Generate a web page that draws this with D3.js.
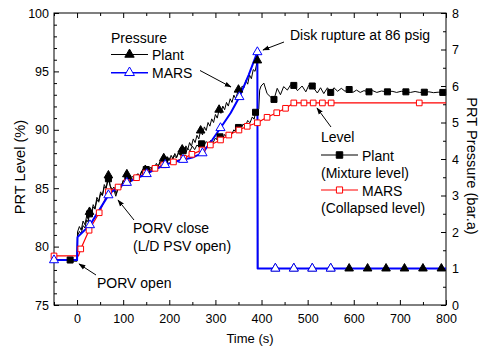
<!DOCTYPE html>
<html>
<head>
<meta charset="utf-8">
<script src="https://cdn.jsdelivr.net/npm/d3@7"></script>
<style>
  body { margin: 0; background: #fff; }
  svg text { font-family: "Liberation Sans", Arial, sans-serif; fill: #000; }
</style>
</head>
<body>
<div id="chart"></div>
<script>
// [time (s), value, marker?]
const plantPressure = [
  [-15, 1.2], [0, 1.2], [1, 2.0], [5, 2.15], [9, 2.05], [13, 2.3], [17, 2.2], [21, 2.45], [24, 2.35],
  [27, 2.55, 1], [31, 2.5], [35, 2.75], [39, 2.65], [43, 2.95], [47, 2.85], [51, 3.1], [55, 3.0],
  [59, 3.3], [63, 3.2], [68, 3.55, 1], [72, 3.25], [76, 3.1], [80, 3.15], [84, 2.98], [88, 3.15],
  [92, 3.3], [96, 3.22], [100, 3.42], [104, 3.35], [108, 3.58, 1], [112, 3.42], [116, 3.5], [120, 3.42],
  [124, 3.55], [128, 3.47], [132, 3.6], [136, 3.52], [140, 3.65], [144, 3.56], [148, 3.7, 1], [152, 3.62],
  [156, 3.76], [160, 3.68], [164, 3.82], [168, 3.74], [172, 3.88], [176, 3.8], [180, 3.94], [184, 3.86],
  [188, 4.02, 1], [192, 3.92], [196, 4.06], [200, 3.96], [204, 4.1], [208, 4.0], [212, 4.15], [216, 4.04],
  [220, 4.2], [224, 4.1], [228, 4.26, 1], [232, 4.18], [236, 4.36], [240, 4.26], [244, 4.45], [248, 4.35],
  [252, 4.55], [256, 4.45], [260, 4.65], [264, 4.55], [268, 4.78, 1], [272, 4.66], [276, 4.88], [280, 4.78],
  [284, 5.0], [288, 4.9], [292, 5.1], [296, 5.0], [300, 5.22], [304, 5.12], [308, 5.35, 1], [312, 5.25],
  [316, 5.45], [320, 5.35], [324, 5.55], [328, 5.45], [332, 5.65], [336, 5.55], [340, 5.75], [344, 5.65],
  [350, 5.9, 1], [354, 5.8], [358, 6.0], [362, 5.95], [366, 6.15], [370, 6.05], [374, 6.3], [378, 6.2],
  [382, 6.45], [386, 6.4], [391, 6.7, 1], [392, 1.0], [430, 1.0, 1], [470, 1.0, 1], [510, 1.0, 1],
  [550, 1.0, 1], [590, 1.0, 1], [630, 1.0, 1], [670, 1.0, 1], [710, 1.0, 1], [750, 1.0, 1], [790, 1.0, 1],
  [800, 1.0]
];

const marsPressure = [
  [-50, 1.23, 1], [0, 1.23], [1, 1.86], [28, 2.19, 1], [68, 3.01, 1], [75, 3.1], [90, 3.22],
  [108, 3.35, 1], [130, 3.48], [151, 3.59, 1], [170, 3.72], [191, 3.84, 1], [210, 3.92], [230, 3.98, 1],
  [252, 4.05], [272, 4.16, 1], [293, 4.52], [311, 4.85, 1], [333, 5.26], [352, 5.7, 1], [372, 6.3],
  [391, 6.93, 1], [391.5, 1.0], [430, 1.0, 1], [470, 1.0, 1], [510, 1.0, 1], [550, 1.0, 1], [800, 1.0]
];

const plantLevel = [
  [-15, 78.85, 1], [0, 78.85], [1, 80.9], [5, 81.3], [9, 81.1], [13, 81.8], [17, 81.6], [21, 82.3],
  [24, 82.1], [27, 82.8, 1], [31, 82.7], [35, 83.4], [39, 83.2], [43, 84.0], [47, 83.8], [51, 84.5],
  [55, 84.4], [59, 85.1], [63, 85.0], [68, 85.8, 1], [72, 85.2], [76, 84.9], [80, 85.1], [85, 84.5],
  [90, 85.3], [95, 85.2], [100, 85.6], [105, 85.5], [110, 85.8, 1], [115, 85.7], [120, 86.0], [125, 85.9],
  [130, 86.2], [135, 86.0], [140, 86.4], [145, 86.2], [150, 86.6, 1], [155, 86.5], [160, 86.8], [165, 86.6],
  [170, 87.0], [175, 86.8], [180, 87.2], [185, 87.0], [190, 87.4, 1], [195, 87.2], [200, 87.6], [205, 87.4],
  [210, 87.8], [215, 87.6], [220, 88.0], [225, 87.8], [230, 88.2, 1], [235, 88.0], [240, 88.4], [245, 88.2],
  [250, 88.6], [255, 88.3], [260, 88.7], [265, 88.5], [270, 88.8, 1], [275, 88.6], [280, 89.0], [285, 88.8],
  [290, 89.1], [295, 88.9], [300, 89.3], [305, 89.1], [310, 89.4, 1], [315, 89.2], [320, 89.6], [325, 89.4],
  [330, 89.8], [335, 89.6], [340, 90.0], [345, 89.8], [350, 90.2, 1], [355, 90.0], [360, 90.5], [365, 90.3],
  [370, 90.8], [375, 90.6], [380, 91.1], [384, 90.9], [387, 91.5, 1], [394, 91.8], [396, 93.4], [399, 93.75],
  [405, 94.0], [412, 93.1], [420, 92.8], [427, 92.6, 1], [434, 93.55], [441, 93.0], [448, 93.7], [456, 93.4],
  [463, 93.85], [470, 93.8, 1], [478, 93.35], [488, 93.75], [496, 93.25], [503, 93.85], [510, 93.75, 1],
  [521, 93.15], [528, 93.6], [535, 93.1], [543, 93.6], [550, 93.2, 1], [557, 93.6], [565, 93.3], [573, 93.55],
  [581, 93.3], [590, 93.45, 1], [598, 93.2], [606, 93.4], [614, 93.2], [622, 93.35], [633, 93.25, 1],
  [641, 93.35], [650, 93.2], [660, 93.32], [673, 93.25, 1], [683, 93.3], [693, 93.2], [703, 93.3],
  [713, 93.25, 1], [723, 93.2], [733, 93.28], [743, 93.2], [753, 93.22, 1], [763, 93.25], [773, 93.18],
  [783, 93.22], [793, 93.2, 1], [800, 93.2]
];

const marsLevel = [
  [-50, 79.2, 1], [3, 79.2], [8, 79.8, 1], [26, 81.4, 1], [48, 82.9, 1], [68, 84.7, 1], [89, 85.1, 1],
  [108, 85.5, 1], [129, 85.9, 1], [149, 86.3, 1], [169, 86.7, 1], [188, 87.0, 1], [209, 87.25, 1],
  [231, 87.56, 1], [249, 87.9, 1], [271, 88.27, 1], [289, 88.7, 1], [311, 89.13, 1], [329, 89.55, 1],
  [351, 89.98, 1], [369, 90.3, 1], [391, 90.6, 1], [412, 91.07, 1], [433, 91.46, 1], [452, 91.84, 1],
  [470, 92.3, 1], [492, 92.3, 1], [512, 92.3, 1], [532, 92.3, 1], [551, 92.3, 1], [742, 92.3, 1], [800, 92.3]
];

const timeTicks = [0, 100, 200, 300, 400, 500, 600, 700, 800];
const levelTicks = [75, 80, 85, 90, 95, 100];
const pressureTicks = [0, 1, 2, 3, 4, 5, 6, 7, 8];

const box = { left: 54, right: 446, top: 13, bottom: 305 };

const x = d3.scaleLinear().domain([-50, 800]).range([box.left, box.right]);
const yL = d3.scaleLinear().domain([75, 100]).range([box.bottom, box.top]);
const yR = d3.scaleLinear().domain([0, 8]).range([box.bottom, box.top]);

const svg = d3.select("#chart").append("svg").attr("width", 480).attr("height", 347);

// axes: ticks point inward
const drawAxes = () => {
  const minorT = d3.range(-50, 800, 100);
  const minorL = d3.range(75, 100, 1).filter((d) => d % 5 !== 0);
  const minorR = d3.range(0.5, 8, 1);

  const bottom = svg.append("g").attr("transform", `translate(0,${box.bottom})`);
  bottom.call(d3.axisBottom(x).tickValues(timeTicks).tickSize(-5).tickPadding(9));
  bottom.append("g").call(d3.axisBottom(x).tickValues(minorT).tickSize(-3).tickFormat(""));

  const top = svg.append("g").attr("transform", `translate(0,${box.top})`);
  top.call(d3.axisTop(x).tickValues(timeTicks).tickSize(-5).tickFormat(""));
  top.append("g").call(d3.axisTop(x).tickValues(minorT).tickSize(-3).tickFormat(""));

  const left = svg.append("g").attr("transform", `translate(${box.left},0)`);
  left.call(d3.axisLeft(yL).tickValues(levelTicks).tickSize(-5).tickPadding(5));
  left.append("g").call(d3.axisLeft(yL).tickValues(minorL).tickSize(-3).tickFormat(""));

  const right = svg.append("g").attr("transform", `translate(${box.right},0)`);
  right.call(d3.axisRight(yR).tickValues(pressureTicks).tickSize(-5).tickPadding(6));
  right.append("g").call(d3.axisRight(yR).tickValues(minorR).tickSize(-3).tickFormat(""));

  svg.selectAll(".domain").remove();
  svg.selectAll(".tick line").attr("stroke", "#000");
  svg.selectAll(".tick text")
    .style("font-size", "12.5px")
    .style("font-family", '"Liberation Sans", Arial, sans-serif');

  svg.append("rect")
    .attr("x", box.left).attr("y", box.top)
    .attr("width", box.right - box.left).attr("height", box.bottom - box.top)
    .attr("fill", "none").attr("stroke", "#000").attr("stroke-width", 1);

  svg.append("text").attr("x", 250).attr("y", 342.5)
    .attr("text-anchor", "middle").style("font-size", "13px").text("Time (s)");
  svg.append("text").attr("transform", "translate(25,167) rotate(-90)")
    .attr("text-anchor", "middle").style("font-size", "14.6px").text("PRT Level (%)");
  svg.append("text").attr("transform", "translate(467,166) rotate(90)")
    .attr("text-anchor", "middle").style("font-size", "14.6px").text("PRT Pressure (bar.a)");
};

const drawLine = ({ data, y, color, width }) => {
  const line = d3.line().x((d) => x(d[0])).y((d) => y(d[1]));
  svg.append("path").datum(data)
    .attr("d", line)
    .attr("fill", "none")
    .attr("stroke", color)
    .attr("stroke-width", width)
    .attr("stroke-linejoin", "round");
};

const drawMarks = ({ data, y, color, symbol, size, fill }) => {
  svg.append("g")
    .selectAll("path")
    .data(data.filter((d) => d[2]))
    .join("path")
    .attr("transform", (d) => `translate(${x(d[0])},${y(d[1])})`)
    .attr("d", d3.symbol(symbol, size))
    .attr("fill", fill)
    .attr("stroke", color)
    .attr("stroke-width", 1);
};

const series = [
  { data: plantLevel, y: yL, color: "#000", width: 1, symbol: d3.symbolSquare, size: 36, fill: "#000" },
  { data: plantPressure, y: yR, color: "#000", width: 1, symbol: d3.symbolTriangle, size: 32, fill: "#000" },
  { data: marsLevel, y: yL, color: "#ff0000", width: 1.2, symbol: d3.symbolSquare, size: 32, fill: "#fff" },
  { data: marsPressure, y: yR, color: "#0000ff", width: 2, symbol: d3.symbolTriangle, size: 36, fill: "#fff" },
];

const drawLegendItem = ({ x0, y0, s, label }) => {
  svg.append("line")
    .attr("x1", x0).attr("x2", x0 + 37).attr("y1", y0).attr("y2", y0)
    .attr("stroke", s.color).attr("stroke-width", s.width === 2 ? 1.5 : 1.2);
  svg.append("path")
    .attr("transform", `translate(${x0 + 18.5},${y0})`)
    .attr("d", d3.symbol(s.symbol, s.size + 6))
    .attr("fill", s.fill).attr("stroke", s.color).attr("stroke-width", 1);
  svg.append("text").attr("x", x0 + 41).attr("y", y0 + 5.5)
    .style("font-size", "14px").text(label);
};

const drawArrow = (x1, y1, x2, y2) => {
  svg.append("line")
    .attr("x1", x1).attr("y1", y1).attr("x2", x2).attr("y2", y2)
    .attr("stroke", "#000").attr("stroke-width", 1)
    .attr("marker-end", "url(#arrow)");
};

const drawNote = (tx, ty, text) => {
  svg.append("text").attr("x", tx).attr("y", ty).style("font-size", "14px").text(text);
};

svg.append("defs").append("marker")
  .attr("id", "arrow")
  .attr("viewBox", "0 0 10 10")
  .attr("refX", 9).attr("refY", 5)
  .attr("markerWidth", 7).attr("markerHeight", 7)
  .attr("markerUnits", "userSpaceOnUse")
  .attr("orient", "auto")
  .append("path").attr("d", "M0,1.5 L10,5 L0,8.5 Z").attr("fill", "#000");

drawAxes();
series.forEach(drawLine);
series.forEach(drawMarks);

// legends
drawNote(111, 43.3, "Pressure");
drawLegendItem({ x0: 111, y0: 54.5, s: series[1], label: "Plant" });
drawLegendItem({ x0: 111, y0: 72.7, s: series[3], label: "MARS" });

drawNote(321, 141.7, "Level");
drawLegendItem({ x0: 321, y0: 155, s: series[0], label: "Plant" });
drawNote(321, 177.5, "(Mixture level)");
drawLegendItem({ x0: 321, y0: 190, s: series[2], label: "MARS" });
drawNote(321, 213, "(Collapsed level)");

// annotations
drawNote(290, 40, "Disk rupture at 86 psig");
drawNote(133, 233.3, "PORV close");
drawNote(133, 251, "(L/D PSV open)");
drawNote(97, 288.3, "PORV open");

drawArrow(200, 70.5, 231, 87);
drawArrow(284, 42, 263, 50);
drawArrow(331, 127, 317, 108);
drawArrow(134, 220, 118, 200);
drawArrow(96, 275, 79, 264);
</script>
</body>
</html>
